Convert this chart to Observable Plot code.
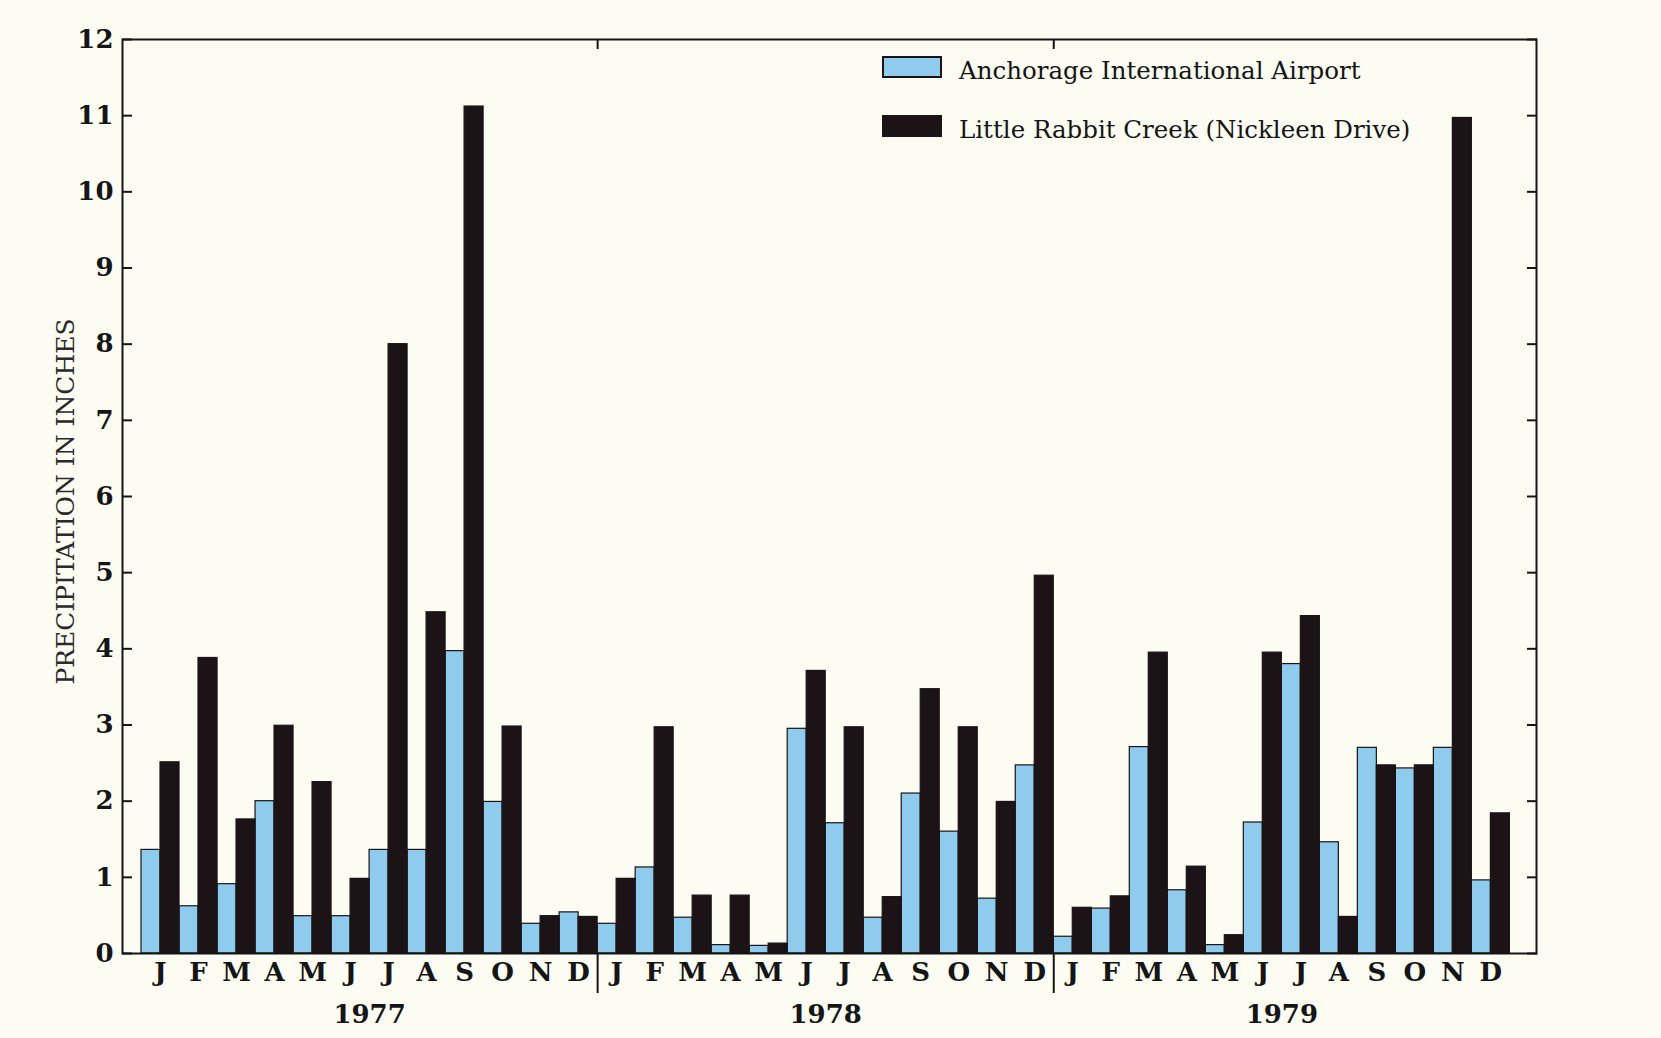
<!DOCTYPE html>
<html>
<head>
<meta charset="utf-8">
<script src="https://cdn.jsdelivr.net/npm/d3@7"></script>
<script src="https://cdn.jsdelivr.net/npm/@observablehq/plot@0.6"></script>
<style>
  html, body { margin: 0; padding: 0; background: #fcfcf3; }
  #chart svg { display: block; }
</style>
</head>
<body>
<div id="chart"></div>
<script>
const years = ["1977", "1978", "1979"];
const monthLetters = ["J","F","M","A","M","J","J","A","S","O","N","D"];
const seriesNames = ["Anchorage International Airport", "Little Rabbit Creek (Nickleen Drive)"];
// monthly precipitation in inches, Jan 1977 .. Dec 1979
const anchorage = [
  1.36, 0.62, 0.91, 2.00, 0.49, 0.49, 1.36, 1.36, 3.97, 1.99, 0.39, 0.54,
  0.39, 1.13, 0.47, 0.11, 0.10, 2.95, 1.71, 0.47, 2.10, 1.60, 0.72, 2.47,
  0.22, 0.59, 2.71, 0.83, 0.11, 1.72, 3.80, 1.46, 2.70, 2.43, 2.70, 0.96
];
const rabbitCreek = [
  2.51, 3.88, 1.76, 2.99, 2.25, 0.98, 8.00, 4.48, 11.12, 2.98, 0.49, 0.48,
  0.98, 2.97, 0.76, 0.76, 0.13, 3.71, 2.97, 0.74, 3.47, 2.97, 1.99, 4.96,
  0.60, 0.75, 3.95, 1.14, 0.24, 3.95, 4.43, 0.48, 2.47, 2.47, 10.97, 1.84
];
const yTicks = d3.range(0, 13);

const rows = [];
anchorage.forEach((v, m) => rows.push({m, s: 0, value: v}));
rabbitCreek.forEach((v, m) => rows.push({m, s: 1, value: v}));

const monthTicks = d3.range(36).map(m => m + 0.5);
const yearTicks = years.map((y, i) => i * 12 + 6);
const yearBounds = [12, 24];

const BLUE = "#8fcbec", BLACK = "#1b1315", INK = "#151515";
const serif = "'DejaVu Serif', 'Liberation Serif', serif";

const chart = Plot.plot({
  width: 1661,
  height: 1038,
  marginLeft: 122,
  marginRight: 125,
  marginTop: 39,
  marginBottom: 85,
  style: {background: "#fcfcf3", fontFamily: serif, color: INK},
  x: {type: "linear", domain: [-0.5, 36.7]},
  y: {domain: [0, 12]},
  marks: [
    Plot.rectY(rows, {
      x1: d => d.m + d.s * 0.5,
      x2: d => d.m + d.s * 0.5 + 0.5,
      y1: 0,
      y2: "value",
      fill: d => d.s === 0 ? BLUE : BLACK,
      stroke: BLACK,
      strokeWidth: 1.2
    }),
    Plot.frame({stroke: INK, strokeWidth: 2}),
    Plot.axisY({anchor: "left", ticks: yTicks, tickSize: -10, tickPadding: 19, strokeWidth: 2,
      fontSize: 26, fontWeight: "bold", label: null}),
    Plot.axisY({anchor: "right", ticks: yTicks, tickSize: -10, strokeWidth: 2, tickFormat: () => "", label: null}),
    Plot.axisX({anchor: "bottom", ticks: monthTicks, tickSize: 0, tickPadding: 9,
      tickFormat: d => monthLetters[Math.floor(d) % 12], fontSize: 26, fontWeight: "bold", label: null}),
    Plot.axisX({anchor: "bottom", ticks: yearTicks, tickSize: 0, tickPadding: 51,
      tickFormat: d => years[Math.floor(d / 12)], fontSize: 26, fontWeight: "bold", label: null}),
    Plot.axisX({anchor: "bottom", ticks: yearBounds, tickSize: 40, strokeWidth: 2, tickFormat: () => "", label: null}),
    Plot.axisX({anchor: "top", ticks: yearBounds, tickSize: -9, strokeWidth: 2, tickFormat: () => "", label: null}),
    Plot.text(["PRECIPITATION IN INCHES"], {frameAnchor: "left", textAnchor: "middle", rotate: -90,
      dx: -57, dy: 5, fontSize: 25, fill: "#2a2a2a"})
  ]
});

// legend inside the plot area, top right
const svg = d3.select(chart);
const leg = svg.append("g").attr("font-family", serif).attr("font-size", 24.5)
  .attr("fill", INK).attr("text-anchor", "start");
const legendItems = seriesNames.map((name, i) => ({name, color: i === 0 ? BLUE : BLACK}));
legendItems.forEach((it, i) => {
  const y0 = 57 + i * 59;
  leg.append("rect").attr("x", 883).attr("y", y0).attr("width", 58).attr("height", 20)
    .attr("fill", it.color).attr("stroke", BLACK).attr("stroke-width", 2);
  leg.append("text").attr("x", 959).attr("y", y0 + 22).text(it.name);
});

document.getElementById("chart").appendChild(chart);
</script>
</body>
</html>
